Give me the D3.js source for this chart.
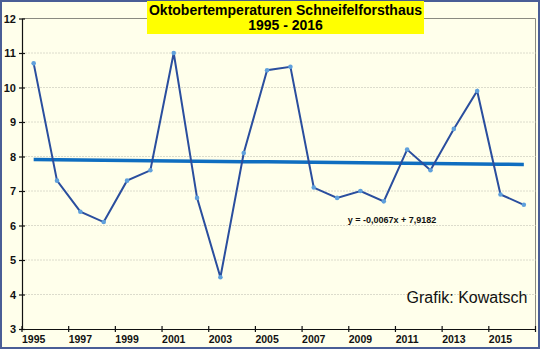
<!DOCTYPE html>
<html><head><meta charset="utf-8">
<script src="https://cdn.jsdelivr.net/npm/d3@7"></script>
<style>html,body{margin:0;padding:0;background:#fff;}svg{display:block;font-family:Arial,"Liberation Sans",sans-serif;}</style>
</head><body>
<svg id="c" width="540" height="349"></svg>
<script>
const years = [1995,1996,1997,1998,1999,2000,2001,2002,2003,2004,2005,2006,2007,2008,2009,2010,2011,2012,2013,2014,2015,2016];
const temps = [10.7,7.3,6.4,6.1,7.3,7.6,11.0,6.8,4.5,8.1,10.5,10.6,7.1,6.8,7.0,6.7,8.2,7.6,8.8,9.9,6.9,6.6];
const yTicks = [3,4,5,6,7,8,9,10,11,12];
const trendSlope = -0.0067, trendIntercept = 7.9182;
const titleLines = ["Oktobertemperaturen Schneifelforsthaus","1995 - 2016"];
const equationText = "y = -0,0067x + 7,9182";
const creditText = "Grafik: Kowatsch";

const W=540,H=349;
const svg=d3.select("#c");
svg.append("rect").attr("x",1).attr("y",1).attr("width",W-2).attr("height",H-2)
  .attr("fill","#FFFFEB").attr("stroke","#4A5E96").attr("stroke-width",2);

const L=22,R=535.5,T=18.5,B=329;
const x=d3.scaleBand().domain(years).range([L,R]).paddingInner(0).paddingOuter(0);
const y=d3.scaleLinear().domain([3,12]).range([B,T]);

// plot area border (top/right)
svg.append("path").attr("d",`M${L},${T}H${R}V${B}`).attr("fill","none").attr("stroke","#8a8a80").attr("stroke-width",1);

// gridlines
svg.append("g").selectAll("line").data(yTicks.filter(v=>v>3&&v<12)).join("line")
  .attr("x1",L).attr("x2",R).attr("y1",d=>y(d)).attr("y2",d=>y(d))
  .attr("stroke","#dcdccc").attr("stroke-width",1).attr("stroke-dasharray","2,1");

// y axis
const ya=svg.append("g").attr("transform",`translate(${L},0)`)
  .call(d3.axisLeft(y).tickValues(yTicks).tickSize(0).tickPadding(6));
ya.select(".domain").attr("stroke","#111").attr("stroke-width",1.2);
ya.selectAll("text").attr("font-size",11).attr("font-weight","bold").attr("fill","#111").attr("font-family","Arial, 'Liberation Sans', sans-serif");
ya.selectAll(".tick").append("line").attr("x1",-3).attr("x2",3).attr("stroke","#111").attr("stroke-width",1.2);

// x axis
const labelYears=years.filter((d,i)=>i%2===0);
const xa=svg.append("g").attr("transform",`translate(0,${B})`)
  .call(d3.axisBottom(x).tickValues(labelYears).tickSize(0).tickPadding(7).tickSizeOuter(0));
xa.select(".domain").attr("stroke","#111").attr("stroke-width",1.2);
xa.selectAll("text").attr("font-size",10.5).attr("font-weight","bold").attr("fill","#111").attr("font-family","Arial, 'Liberation Sans', sans-serif");
const boundaries=years.filter((d,i)=>i%2===0).map(d=>x(d)).concat([R]);
xa.append("g").selectAll("line").data(boundaries).join("line")
  .attr("x1",d=>d).attr("x2",d=>d).attr("y1",-3).attr("y2",3).attr("stroke","#111").attr("stroke-width",1.2);

const cx=d=>x(d)+x.bandwidth()/2;

// trend line
const trend=years.map((yr,i)=>({yr,v:trendIntercept+trendSlope*(i+1)}));
svg.append("path").datum(trend)
  .attr("d",d3.line().x(d=>cx(d.yr)).y(d=>y(d.v)))
  .attr("fill","none").attr("stroke","#0F6EC0").attr("stroke-width",3.5);

// data line
const pts=years.map((yr,i)=>({yr,v:temps[i]}));
svg.append("path").datum(pts)
  .attr("d",d3.line().x(d=>cx(d.yr)).y(d=>y(d.v)))
  .attr("fill","none").attr("stroke","#2A4E9E").attr("stroke-width",2);
svg.append("g").selectAll("circle").data(pts).join("circle")
  .attr("cx",d=>cx(d.yr)).attr("cy",d=>y(d.v)).attr("r",2.3).attr("fill","#5FA0DC");

// title
svg.append("rect").attr("x",147).attr("y",1).attr("width",277).attr("height",33).attr("fill","#FFFF00");
svg.append("g").selectAll("text").data(titleLines).join("text")
  .attr("x",285.5).attr("y",(d,i)=>15+i*15).attr("text-anchor","middle")
  .attr("font-size",14).attr("font-weight","bold").attr("fill","#000").text(d=>d);

// equation
svg.append("text").attr("x",392).attr("y",223).attr("text-anchor","middle")
  .attr("font-size",9).attr("font-weight","bold").attr("fill","#111").text(equationText);

// credit
svg.append("text").attr("x",527.5).attr("y",303).attr("text-anchor","end")
  .attr("font-size",16).attr("fill","#111").text(creditText);
</script>
</body></html>
